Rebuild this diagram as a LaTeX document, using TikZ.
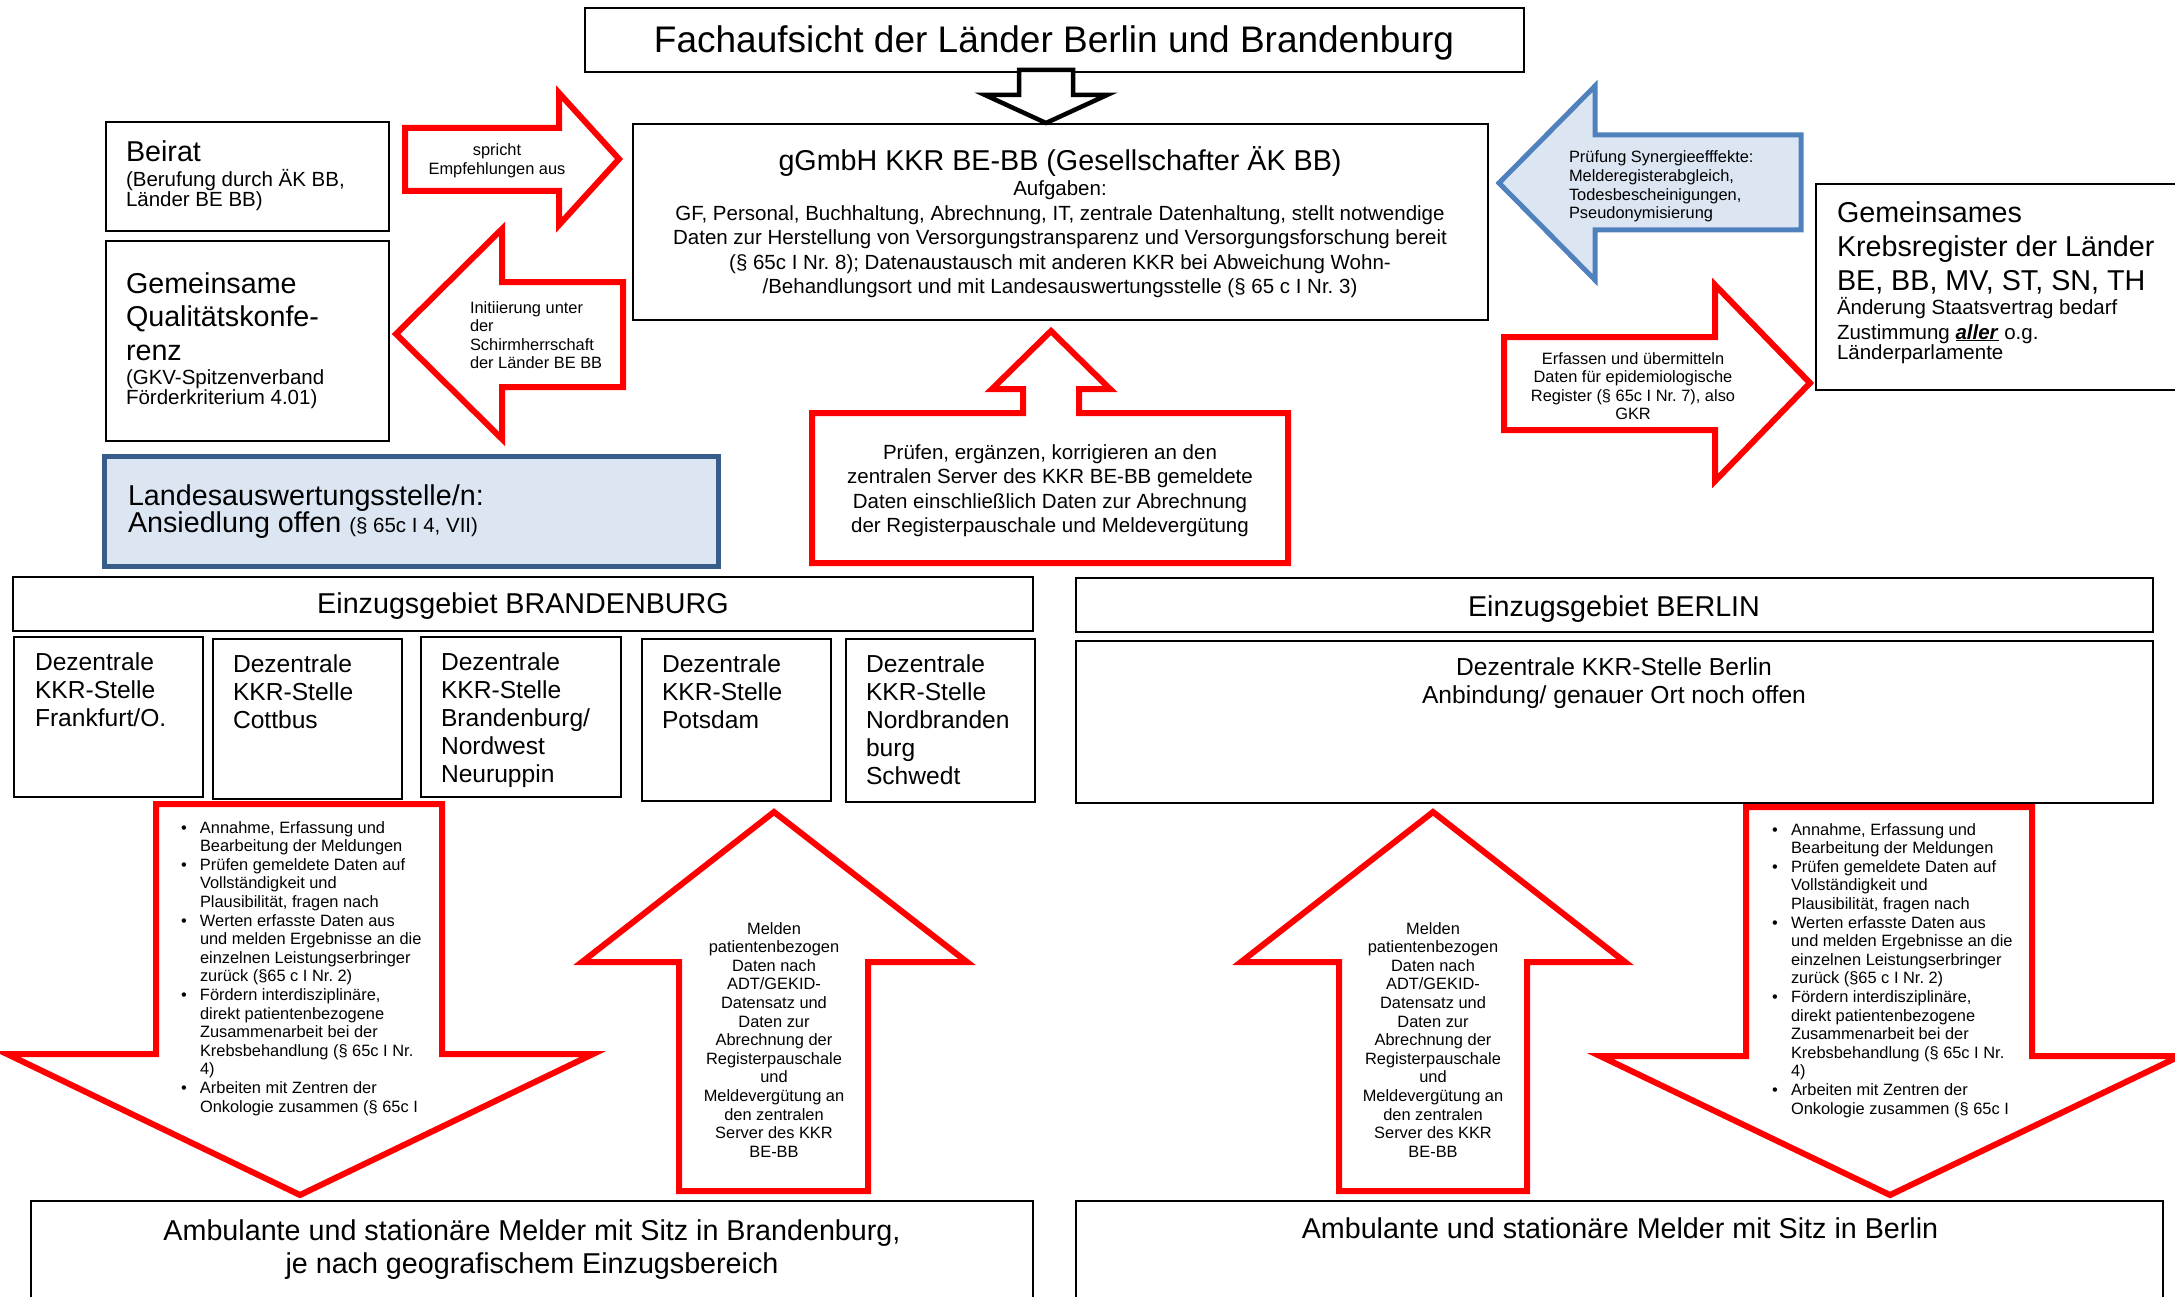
\documentclass[tikz,border=0pt]{standalone}
\usepackage{fontspec}
\setmainfont{Liberation Sans}
\usetikzlibrary{calc}

\definecolor{kkrred}{RGB}{255,0,0}
\definecolor{kkrblue}{RGB}{79,129,189}
\definecolor{kkrdarkblue}{RGB}{56,93,138}
\definecolor{kkrlight}{RGB}{220,230,242}

\def\fsTitle{\fontsize{37}{42}\selectfont}
\def\fsHead{\fontsize{28.7}{33.5}\selectfont}
\def\fsStelle{\fontsize{24.6}{28}\selectfont}
\def\fsBody{\fontsize{20.5}{24.5}\selectfont}
\def\fsSmall{\fontsize{16.4}{18.6}\selectfont}

\tikzset{
  box/.style={draw=black, line width=2pt, fill=white},
  redarrow/.style={draw=kkrred, line width=6pt, line join=miter, fill=white},
  bluearrow/.style={draw=kkrblue, line width=5pt, line join=miter, fill=kkrlight},
  txt/.style={inner sep=0pt, outer sep=0pt},
}

\begin{document}
\frenchspacing
\begin{tikzpicture}[x=1pt, y=-1pt]
		%%%%% START %%%%%
		\useasboundingbox (0,0) rectangle (2175,1297);

		% oberste Ebene
		\draw[box] (585,8) rectangle (1524,72);
		\draw[box] (633,124) rectangle (1488,320);
		\draw[black, line width=4.5pt, line join=miter, fill=white] (1019,70) -- (1073,70) -- (1073,95) -- (1107,95) -- (1046,123) -- (985,95) -- (1019,95) -- cycle;

		\draw[box] (106,122) rectangle (389,231);
		\draw[box] (106,241) rectangle (389,441);
		\draw[box] (1816,184) rectangle (2185,390);

		\draw[redarrow] (405,128) -- (559,128) -- (559,93) -- (619,159) -- (559,225) -- (559,191) -- (405,191) -- cycle;
		\draw[redarrow] (623,282) -- (502,282) -- (502,229) -- (396,334) -- (502,439) -- (502,387) -- (623,387) -- cycle;
		\draw[bluearrow] (1801,135) -- (1595,135) -- (1595,86) -- (1499,183) -- (1595,280) -- (1595,230) -- (1801,230) -- cycle;
		\draw[redarrow] (1504,337) -- (1715,337) -- (1715,285) -- (1810,383) -- (1715,481) -- (1715,430) -- (1504,430) -- cycle;

		\draw[redarrow] (812,413) -- (1023,413) -- (1023,389) -- (992,389) -- (1051,331) -- (1110,389) -- (1079,389) -- (1079,413) -- (1288,413) -- (1288,563) -- (812,563) -- cycle;

		\draw[line width=5pt, draw=kkrdarkblue, fill=kkrlight] (104,456) rectangle (718,566);

		% Einzugsgebiete
		\draw[box] (13,577) rectangle (1033,631);
		\draw[box] (1076,578) rectangle (2153,632);

		\draw[box] (14,637) rectangle (203,797);
		\draw[box] (213,639) rectangle (402,799);
		\draw[box] (421,637) rectangle (621,797);
		\draw[box] (642,639) rectangle (831,801);
		\draw[box] (846,639) rectangle (1035,802);
		\draw[box] (1076,641) rectangle (2153,803);

		\draw[redarrow] (156,804) -- (442,804) -- (442,1054) -- (593,1054) -- (300,1195) -- (7,1054) -- (156,1054) -- cycle;
		\draw[redarrow] (679,1191) -- (679,962) -- (582,962) -- (774,812) -- (967,962) -- (868,962) -- (868,1191) -- cycle;
		\draw[redarrow] (1339,1191) -- (1339,962) -- (1241,962) -- (1433,812) -- (1625,962) -- (1527,962) -- (1527,1191) -- cycle;
		\draw[redarrow] (1746,807) -- (2032,807) -- (2032,1056) -- (2180,1056) -- (1890,1195) -- (1600,1056) -- (1746,1056) -- cycle;

		\draw[box] (31,1201) rectangle (1033,1320);
		\draw[box] (1076,1201) rectangle (2163,1320);

		% Texte
		\node[txt, font=\fsTitle, anchor=base] (title) at (1054,53) {Fachaufsicht der Länder Berlin und Brandenburg};
		\node[txt, font=\fsHead, anchor=base] (gmbhhead) at (1060,171) {gGmbH KKR BE-BB (Gesellschafter ÄK BB)};
		\node[txt, font=\fsBody, text width=840pt, align=flush center, anchor=base] (gmbhtext) at (1060,196) {Aufgaben:\\GF, Personal, Buchhaltung, Abrechnung, IT, zentrale Datenhaltung, stellt notwendige\\Daten zur Herstellung von Versorgungstransparenz und Versorgungsforschung bereit\\(§ 65c I Nr. 8); Datenaustausch mit anderen KKR bei Abweichung Wohn-\\/Behandlungsort und mit Landesauswertungsstelle (§ 65 c I Nr. 3)};

		\node[txt, text width=260pt, align=flush left, anchor=base west] (beirat) at (126,162) {\fsHead Beirat\par\fsBody (Berufung durch ÄK BB,\\Länder BE BB)};
		\node[txt, text width=260pt, align=flush left, anchor=base west] (qualikonf) at (126,293) {\fsHead Gemeinsame\\Qualitätskonfe-\\renz\par\fsBody (GKV-Spitzenverband\\Förderkriterium 4.01)};
		\node[txt, text width=340pt, align=flush left, anchor=base west] (gkr) at (1837,223) {\fsHead Gemeinsames\\Krebsregister der Länder\\BE, BB, MV, ST, SN, TH\par\fsBody Änderung Staatsvertrag bedarf\\Zustimmung \underline{\textbf{\textit{aller}}} o.g.\\Länderparlamente};

		\node[txt, font=\fsSmall, text width=150pt, align=flush center, anchor=base] (empf) at (497,156) {spricht\\Empfehlungen aus};
		\node[txt, font=\fsSmall, text width=150pt, align=flush left, anchor=base west] (initi) at (470,313) {Initiierung unter\\der\\Schirmherrschaft\\der Länder BE BB};
		\node[txt, font=\fsSmall, text width=220pt, align=flush left, anchor=base west] (synergie) at (1569,163) {Prüfung Synergieefffekte:\\Melderegisterabgleich,\\Todesbescheinigungen,\\Pseudonymisierung};
		\node[txt, font=\fsSmall, text width=280pt, align=flush center, anchor=base] (erfassen) at (1633,364) {Erfassen und übermitteln\\Daten für epidemiologische\\Register (§ 65c I Nr. 7), also\\GKR};

		\node[txt, font=\fsBody, text width=460pt, align=flush center, anchor=base] (pruefen) at (1050,459) {Prüfen, ergänzen, korrigieren an den\\zentralen Server des KKR BE-BB gemeldete\\Daten einschließlich Daten zur Abrechnung\\der Registerpauschale und Meldevergütung};

		\node[txt, text width=600pt, align=flush left, anchor=base west] (landes) at (128,505) {\fsHead Landesauswertungsstelle/n:\\Ansiedlung offen {\fsBody (§ 65c I 4, VII)}};

		\node[txt, font=\fsHead, anchor=base] (gebietbb) at (523,613) {Einzugsgebiet BRANDENBURG};
		\node[txt, font=\fsHead, anchor=base] (gebietbe) at (1614,616) {Einzugsgebiet BERLIN};

		\node[txt, font=\fsStelle, text width=170pt, align=flush left, anchor=base west] (ffo) at (35,670) {Dezentrale\\KKR-Stelle\\Frankfurt/O.};
		\node[txt, font=\fsStelle, text width=170pt, align=flush left, anchor=base west] (cottbus) at (233,672) {Dezentrale\\KKR-Stelle\\Cottbus};
		\node[txt, font=\fsStelle, text width=170pt, align=flush left, anchor=base west] (neuruppin) at (441,670) {Dezentrale\\KKR-Stelle\\Brandenburg/\\Nordwest\\Neuruppin};
		\node[txt, font=\fsStelle, text width=170pt, align=flush left, anchor=base west] (potsdam) at (662,672) {Dezentrale\\KKR-Stelle\\Potsdam};
		\node[txt, font=\fsStelle, text width=170pt, align=flush left, anchor=base west] (schwedt) at (866,672) {Dezentrale\\KKR-Stelle\\Nordbranden\\burg\\Schwedt};
		\node[txt, font=\fsStelle, text width=900pt, align=flush center, anchor=base] (berlinstelle) at (1614,675) {Dezentrale KKR-Stelle Berlin\\Anbindung/ genauer Ort noch offen};

		\node[txt, font=\fsSmall, anchor=base west] (aufgabenbb) at (181,833) {\begin{tabular}[t]{@{}p{19pt}@{}l@{}}
			\textbullet & Annahme, Erfassung und\\
			 & Bearbeitung der Meldungen\\
			\textbullet & Prüfen gemeldete Daten auf\\
			 & Vollständigkeit und\\
			 & Plausibilität, fragen nach\\
			\textbullet & Werten erfasste Daten aus\\
			 & und melden Ergebnisse an die\\
			 & einzelnen Leistungserbringer\\
			 & zurück (§65 c I Nr. 2)\\
			\textbullet & Fördern interdisziplinäre,\\
			 & direkt patientenbezogene\\
			 & Zusammenarbeit bei der\\
			 & Krebsbehandlung (§ 65c I Nr.\\
			 & 4)\\
			\textbullet & Arbeiten mit Zentren der\\
			 & Onkologie zusammen (§ 65c I
		\end{tabular}};
		\node[txt, font=\fsSmall, anchor=base west] (aufgabenbe) at (1772,835) {\begin{tabular}[t]{@{}p{19pt}@{}l@{}}
			\textbullet & Annahme, Erfassung und\\
			 & Bearbeitung der Meldungen\\
			\textbullet & Prüfen gemeldete Daten auf\\
			 & Vollständigkeit und\\
			 & Plausibilität, fragen nach\\
			\textbullet & Werten erfasste Daten aus\\
			 & und melden Ergebnisse an die\\
			 & einzelnen Leistungserbringer\\
			 & zurück (§65 c I Nr. 2)\\
			\textbullet & Fördern interdisziplinäre,\\
			 & direkt patientenbezogene\\
			 & Zusammenarbeit bei der\\
			 & Krebsbehandlung (§ 65c I Nr.\\
			 & 4)\\
			\textbullet & Arbeiten mit Zentren der\\
			 & Onkologie zusammen (§ 65c I
		\end{tabular}};

		\node[txt, font=\fsSmall, text width=180pt, align=flush center, anchor=base] (meldenbb) at (774,934) {Melden\\patientenbezogen\\Daten nach\\ADT/GEKID-\\Datensatz und\\Daten zur\\Abrechnung der\\Registerpauschale\\und\\Meldevergütung an\\den zentralen\\Server des KKR\\BE-BB};
		\node[txt, font=\fsSmall, text width=180pt, align=flush center, anchor=base] (meldenbe) at (1433,934) {Melden\\patientenbezogen\\Daten nach\\ADT/GEKID-\\Datensatz und\\Daten zur\\Abrechnung der\\Registerpauschale\\und\\Meldevergütung an\\den zentralen\\Server des KKR\\BE-BB};

		\node[txt, font=\fsHead, text width=950pt, align=flush center, anchor=base] (melderbb) at (532,1240) {Ambulante und stationäre Melder mit Sitz in Brandenburg,\\je nach geografischem Einzugsbereich};
		\node[txt, font=\fsHead, anchor=base] (melderbe) at (1620,1238) {Ambulante und stationäre Melder mit Sitz in Berlin};

		%%%%% END %%%%%
\end{tikzpicture}
\end{document}
